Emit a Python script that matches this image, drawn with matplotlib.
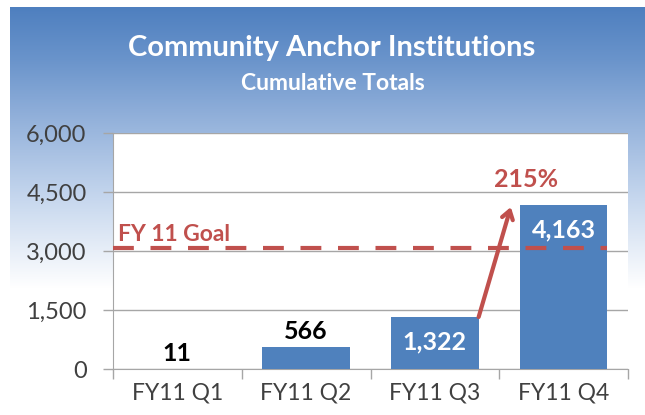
import numpy as np
import matplotlib.pyplot as plt
from matplotlib.colors import LinearSegmentedColormap

plt.rcParams['font.family'] = ['Lato', 'DejaVu Sans']

quarters = ['FY11 Q1', 'FY11 Q2', 'FY11 Q3', 'FY11 Q4']
totals = [11, 566, 1322, 4163]
bar_labels = ['11', '566', '1,322', '4,163']
label_inside = [False, False, True, True]
goal = 3080
goal_label = 'FY 11 Goal'
growth_label = '215%'
yticks = [0, 1500, 3000, 4500, 6000]

W, H = 645, 415
red = '#c0504d'
blue = '#4f81bd'
grey = '#a6a6a6'

fig = plt.figure(figsize=(W / 100, H / 100), dpi=100)

# gradient panel behind the chart
bg = fig.add_axes([10 / W, 0, 1 - 10 / W, 408 / H])
stops = [(0.0, '#4e7fbf'), (0.13, '#6a94cb'), (0.25, '#8cacd8'),
         (0.47, '#c6d7ee'), (0.69, '#ffffff'), (1.0, '#ffffff')]
cmap = LinearSegmentedColormap.from_list('panel', stops)
grad = np.linspace(0, 1, 256).reshape(-1, 1)
bg.imshow(grad, cmap=cmap, aspect='auto', extent=[0, 1, 0, 1])
bg.axis('off')

fig.text(332 / W, 1 - 48 / H, 'Community Anchor Institutions', color='white',
         fontsize=21, fontweight='bold', ha='center', va='center')
fig.text(333 / W, 1 - 84 / H, 'Cumulative Totals', color='white',
         fontsize=16.5, fontweight='bold', ha='center', va='center')

ax = fig.add_axes([113 / W, (H - 369) / H, (628 - 113) / W, (369 - 133) / H])
ax.set_facecolor('white')
x = np.arange(len(quarters))
ax.bar(x, totals, width=0.68, color=blue, zorder=3)
ax.set_xlim(-0.5, len(quarters) - 0.5)
ax.set_ylim(yticks[0], yticks[-1])

ax.set_yticks(yticks)
ax.set_yticklabels([f'{v:,}' for v in yticks])
ax.yaxis.grid(True, color=grey, lw=1, zorder=0)
ax.set_xticks(x)
ax.set_xticklabels(quarters)
ax.set_xticks(np.arange(-0.5, len(quarters)), minor=True)
ax.tick_params(axis='x', which='major', length=0, pad=10, labelsize=16.5, labelcolor='#404040')
ax.tick_params(axis='x', which='minor', length=7, color=grey, width=1)
ax.tick_params(axis='y', length=7, color=grey, width=1, pad=12, labelsize=17, labelcolor='#404040')
for s in ['top', 'right']:
    ax.spines[s].set_visible(False)
for s in ['left', 'bottom']:
    ax.spines[s].set_color(grey)

# goal line
ax.plot([-0.5, x[-1] + 0.34], [goal, goal], ls=(0, (5, 4)), lw=3, color=red,
        zorder=4, dash_capstyle='butt')
ax.text(-0.46, goal + 330, goal_label, color=red, fontsize=16.5, fontweight='bold',
        ha='left', va='center')

# value labels
for xi, v, lab, inside in zip(x, totals, bar_labels, label_inside):
    if inside:
        ax.annotate(lab, (xi, v), xytext=(0, -18), textcoords='offset points',
                    ha='center', va='center', color='white', fontsize=18,
                    fontweight='bold', zorder=5)
    else:
        ax.annotate(lab, (xi, v), xytext=(0, 11), textcoords='offset points',
                    ha='center', va='center', color='black', fontsize=18,
                    fontweight='bold', zorder=5)

# growth arrow from Q3 to Q4
tip = (x[2] + 0.59, totals[3] - 45)
ax.annotate('', xy=tip, xytext=(x[2] + 0.34, totals[2]),
            arrowprops=dict(arrowstyle='->,head_length=0.6,head_width=0.4',
                            color=red, lw=3, shrinkA=0, shrinkB=0), zorder=6)
ax.text(tip[0] + 0.12, tip[1] + 710, growth_label, color=red, fontsize=18,
        fontweight='bold', ha='center', va='center')

fig.savefig('out.png', dpi=100)
